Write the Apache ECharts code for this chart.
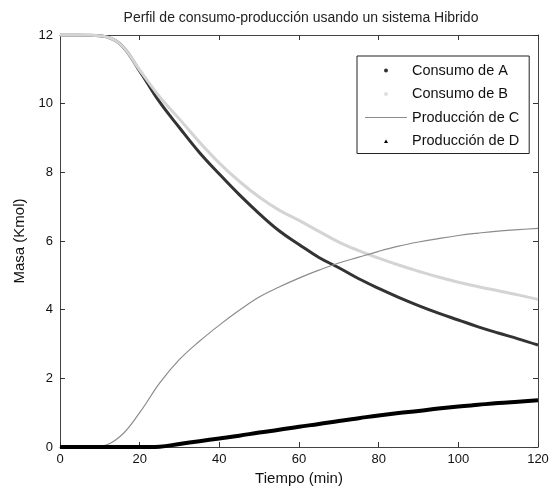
<!DOCTYPE html>
<html>
<head>
<meta charset="utf-8">
<script src="https://cdn.jsdelivr.net/npm/echarts@6/dist/echarts.min.js"></script>
<style>html,body{margin:0;padding:0;background:#fff}#c{width:554px;height:488px}</style>
</head>
<body>
<div id="c"></div>
<script>
// time (min)
var tiempo = [0,5,10,15,20,25,30,35,40,45,50,55,60,65,70,75,80,85,90,95,100,105,110,115,120];
var consumoA = [12,12,11.98,11.75,10.95,10.05,9.3,8.58,7.95,7.35,6.8,6.3,5.9,5.52,5.22,4.9,4.62,4.36,4.12,3.9,3.7,3.5,3.32,3.15,2.97];
var consumoB = [12,12,11.98,11.75,10.98,10.2,9.55,8.88,8.27,7.74,7.28,6.9,6.6,6.28,5.97,5.72,5.5,5.3,5.12,4.95,4.8,4.67,4.55,4.43,4.3];
var produccionC = [0,0,0.02,0.3,1.0,1.86,2.55,3.08,3.55,3.98,4.37,4.66,4.92,5.15,5.36,5.53,5.7,5.85,5.97,6.07,6.16,6.23,6.29,6.33,6.37];
var produccionD = [0,0,0,0,0,0.01,0.09,0.17,0.25,0.33,0.42,0.5,0.59,0.67,0.76,0.84,0.92,0.99,1.05,1.12,1.18,1.23,1.28,1.32,1.36];
var xTicks = {min:0, max:120, interval:20};
var yTicks = {min:0, max:12, interval:2};
var names = ['Consumo de A','Consumo de B','Producción de C','Producción de D'];

function pairs(vals){ return tiempo.map(function(t,i){ return [t, vals[i]]; }); }

var FONT = '"Liberation Sans", Arial, Helvetica, sans-serif';
function line(){ return {show:true, onZero:false, lineStyle:{color:'#444', width:1}}; }
function tick(){ return {show:true, inside:true, length:5, lineStyle:{color:'#333', width:1}}; }
function xAx(extra){ return Object.assign({type:'value', min:xTicks.min, max:xTicks.max, interval:xTicks.interval, splitLine:{show:false}, axisLine:line(), axisTick:tick()}, extra); }
function yAx(extra){ return Object.assign({type:'value', min:yTicks.min, max:yTicks.max, interval:yTicks.interval, splitLine:{show:false}, axisLine:line(), axisTick:tick()}, extra); }

var chart = echarts.init(document.getElementById('c'), null, {renderer:'canvas'});
chart.setOption({
  backgroundColor:'#fff',
  animation:false,
  textStyle:{fontFamily:FONT},
  title:{
    text:'Perfil de consumo-producción usando un sistema Hibrido',
    left:296, top:6, textAlign:'center',
    textStyle:{fontSize:14, fontWeight:'normal', color:'#222', fontFamily:FONT}
  },
  grid:{left:60, right:16, top:35, bottom:41, containLabel:false, outerBoundsMode:'none'},
  legend:{
    orient:'vertical', left:357, top:56, align:'left',
    backgroundColor:'#fff', borderColor:'#222', borderWidth:1,
    padding:[7,10,5,8], itemGap:8.5, itemWidth:42, itemHeight:4,
    textStyle:{fontSize:14.5, color:'#111', fontFamily:FONT},
    data:[
      {name:names[0], icon:'circle', itemStyle:{color:'#333'}},
      {name:names[1], icon:'circle', itemStyle:{color:'#e0e0e0'}},
      {name:names[2], icon:'path://M0,0M42,4M0,1.5L42,1.5L42,2.6L0,2.6Z', itemStyle:{color:'#8c8c8c'}},
      {name:names[3], icon:'path://M0,0M42,4M19,4L21,0.4L23,4Z', itemStyle:{color:'#000'}}
    ]
  },
  xAxis:[
    xAx({position:'bottom',
     axisLabel:{color:'#111', fontSize:13, margin:6, fontFamily:FONT},
     name:'Tiempo (min)', nameLocation:'middle', nameGap:17,
     nameTextStyle:{color:'#111', fontSize:15, fontFamily:FONT}}),
    xAx({position:'top', axisLabel:{show:false}})
  ],
  yAxis:[
    yAx({position:'left',
     axisLabel:{color:'#111', fontSize:13, margin:7, fontFamily:FONT},
     name:'Masa (Kmol)', nameLocation:'middle', nameGap:33, nameRotate:90,
     nameTextStyle:{color:'#111', fontSize:15, fontFamily:FONT}}),
    yAx({position:'right', axisLabel:{show:false}})
  ],
  series:[
    {name:names[0], type:'line', data:pairs(consumoA), showSymbol:false, symbol:'none',
     smooth:0.4, lineStyle:{color:'#333', width:3}, itemStyle:{color:'#333'}},
    {name:names[1], type:'line', data:pairs(consumoB), showSymbol:false, symbol:'none',
     smooth:0.4, lineStyle:{color:'#d4d4d4', width:3}, itemStyle:{color:'#d4d4d4'}},
    {name:names[2], type:'line', data:pairs(produccionC), showSymbol:false, symbol:'none',
     smooth:0.4, lineStyle:{color:'#8c8c8c', width:1.2}, itemStyle:{color:'#8c8c8c'}},
    {name:names[3], type:'line', data:pairs(produccionD), showSymbol:false, symbol:'none',
     smooth:0.4, lineStyle:{color:'#000', width:4}, itemStyle:{color:'#000'}}
  ]
});
</script>
</body>
</html>
